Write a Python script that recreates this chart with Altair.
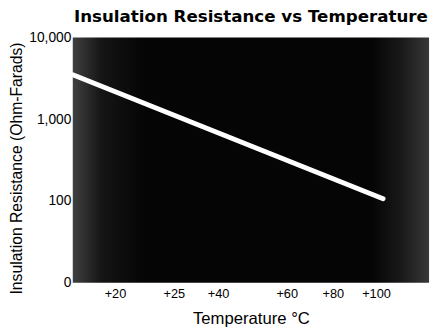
import altair as alt
import pandas as pd

# Line data
temps = [15, 102]
resistance = [3500, 107]

# Axis ticks
x_ticks = [20, 25, 40, 60, 80, 100]
x_labels = ["+20", "+25", "+40", "+60", "+80", "+100"]
y_ticks = [10, 100, 1000, 10000]
y_labels = ["0", "100", "1,000", "10,000"]

# Irregular (piecewise) temperature axis of the original
x_domain = [15, 20, 25, 40, 60, 80, 100, 115]
x_range = [0, 43, 103, 148, 218, 265, 309, 363]

W, H = 363, 250

df = pd.DataFrame({"t": temps, "r": resistance})


def label_expr(vals, labs):
    parts = " : ".join(
        f"datum.value == {v} ? '{l}'" for v, l in zip(vals, labs)
    )
    return parts + " : ''"


bg = alt.Chart(pd.DataFrame({"a": [0]})).mark_rect(
    color=alt.Gradient(
        gradient="linear",
        x1=0, x2=1, y1=0, y2=0,
        stops=[
            alt.GradientStop(color="#404040", offset=0),
            alt.GradientStop(color="#151515", offset=0.08),
            alt.GradientStop(color="#050505", offset=0.2),
            alt.GradientStop(color="#050505", offset=0.84),
            alt.GradientStop(color="#181818", offset=0.92),
            alt.GradientStop(color="#383838", offset=1),
        ],
    )
).encode(
    x=alt.value(0), x2=alt.value(W), y=alt.value(0), y2=alt.value(H)
)

line = alt.Chart(df).mark_line(
    color="white", strokeWidth=5, strokeCap="round"
).encode(
    x=alt.X(
        "t:Q",
        scale=alt.Scale(domain=x_domain, range=x_range, clamp=False),
        axis=alt.Axis(
            values=x_ticks,
            labelExpr=label_expr(x_ticks, x_labels),
            title="Temperature °C",
            titleFontSize=17,
            titleFontWeight="normal",
            titlePadding=10,
            labelFontSize=13,
            labelPadding=5,
            labelColor="black",
            titleColor="black",
            ticks=False,
            domain=False,
            grid=False,
            labelFont="Liberation Sans",
            titleFont="Liberation Sans",
        ),
    ),
    y=alt.Y(
        "r:Q",
        scale=alt.Scale(type="log", domain=[10, 10000]),
        axis=alt.Axis(
            values=y_ticks,
            labelExpr=label_expr(y_ticks, y_labels),
            title="Insulation Resistance (Ohm-Farads)",
            titleFontSize=16,
            titleFontWeight="normal",
            titlePadding=4,
            titleY=133,
            labelFontSize=14,
            labelPadding=2,
            labelColor="black",
            titleColor="black",
            ticks=False,
            domain=False,
            grid=False,
            labelFont="Liberation Sans",
            titleFont="Liberation Sans",
        ),
    ),
)

chart = alt.layer(bg, line).properties(
    width=W,
    height=H,
    title=alt.TitleParams(
        "Insulation Resistance vs Temperature",
        fontSize=17,
        font="DejaVu Sans",
        fontWeight="bold",
        color="black",
        anchor="middle",
        offset=5,
    ),
    autosize=alt.AutoSizeParams(type="none"),
    padding={"left": 66, "top": 27, "right": 2, "bottom": 45},
).configure_view(stroke=None)

chart.save("out.html", embed_options={"renderer": "svg", "actions": False})
